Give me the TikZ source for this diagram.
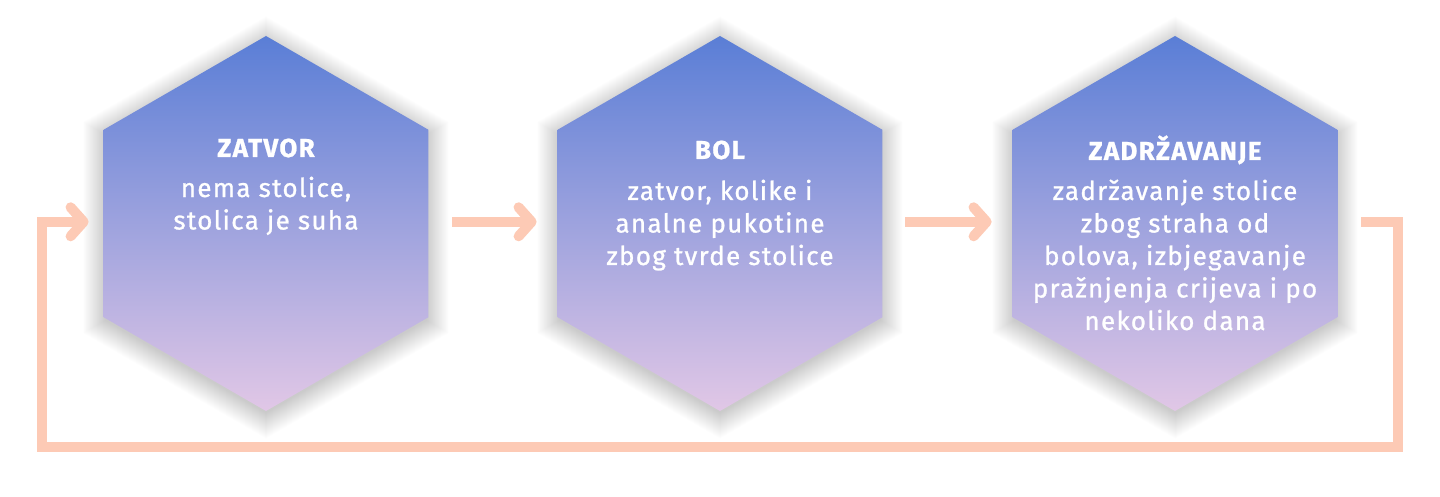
\documentclass[tikz,border=0pt]{standalone}
\usepackage{fontspec}
\setmainfont{Fira Sans}[LetterSpace=5, UprightFeatures={FakeBold=1}, BoldFeatures={FakeBold=0.8}]
\usetikzlibrary{shapes.geometric}
\definecolor{hexTop}{HTML}{5A7ED6}
\definecolor{hexBot}{HTML}{E1C7E6}
\definecolor{loopc}{HTML}{FDCAB5}
\tikzset{
  hexbox/.style={regular polygon, regular polygon sides=6, shape border rotate=30, minimum size=375pt,
    inner sep=0pt, outer sep=0pt, top color=hexTop, bottom color=hexBot, draw=none},
  titletext/.style={text=white, anchor=base, inner sep=0pt, font=\fontsize{26}{30}\selectfont\bfseries},
  bodytext/.style={text=white, anchor=base, inner sep=0pt, font=\fontsize{26}{32.5}\selectfont},
  shaft/.style={draw=loopc, line width=10pt, line cap=butt, line join=miter},
  chevron/.style={draw=loopc, line width=10pt, line cap=round, line join=round},
  shadowlayer/.style={fill=black, fill opacity=0.0065}
}
\newcommand{\bodylines}[1]{\begin{tabular}[t]{@{}c@{}}#1\end{tabular}}
\newcommand{\hexshadow}[1]{%
  \foreach \r in {186,187,...,211} {
    \fill[shadowlayer] ([yshift=-4pt]#1) ++(90:\r) -- ++(210:\r) -- ++(270:\r) -- ++(330:\r) -- ++(30:\r) -- ++(90:\r) -- cycle;
  }}
\begin{document}
\begin{tikzpicture}[x=1pt,y=-1pt]
\useasboundingbox (0,0) rectangle (1440,497);
\fill[white] (0,0) rectangle (1440,497);

\coordinate (c1) at (266,223.5);
\coordinate (c2) at (720,223.5);
\coordinate (c3) at (1175,223.5);
\hexshadow{c1}
\hexshadow{c2}
\hexshadow{c3}

\node[hexbox] (h1) at (c1) {};
\node[hexbox] (h2) at (c2) {};
\node[hexbox] (h3) at (c3) {};

\node[titletext] (t1) at (266,157) {ZATVOR};
\node[bodytext] (b1) at (266,197) {\bodylines{nema stolice,\\stolica je suha}};

\node[titletext] (t2) at (720,159) {BOL};
\node[bodytext] (b2) at (720,200) {\bodylines{zatvor, kolike i\\analne pukotine\\zbog tvrde stolice}};

\node[titletext] (t3) at (1175,160) {ZADRŽAVANJE};
\node[bodytext] (b3) at (1175,200) {\bodylines{zadržavanje stolice\\zbog straha od\\bolova, izbjegavanje\\pražnjenja crijeva i po\\nekoliko dana}};

% arrow h1 -> h2
\coordinate (a1s) at ([xshift=24pt,yshift=1.7pt]h1.east);
\coordinate (a1e) at ([xshift=-26pt,yshift=1.7pt]h2.west);
\draw[shaft] (a1s) -- (a1e);
\draw[chevron] ([xshift=-13pt,yshift=14.5pt]a1e) -- (a1e) -- ([xshift=-13pt,yshift=-14.5pt]a1e);

% arrow h2 -> h3
\coordinate (a2s) at ([xshift=23pt,yshift=1.7pt]h2.east);
\coordinate (a2e) at ([xshift=-26pt,yshift=1.7pt]h3.west);
\draw[shaft] (a2s) -- (a2e);
\draw[chevron] ([xshift=-13pt,yshift=14.5pt]a2e) -- (a2e) -- ([xshift=-13pt,yshift=-14.5pt]a2e);

% loop h3 -> h1
\coordinate (l0) at ([xshift=24pt,yshift=1.7pt]h3.east);
\coordinate (l1) at (1398,221.8);
\coordinate (l2) at (1398,447);
\coordinate (l3) at (42,447);
\coordinate (l4) at (42,221.8);
\coordinate (l5) at ([xshift=-20pt,yshift=1.7pt]h1.west);
\draw[shaft] (l0) -- (l1) -- (l2) -- (l3) -- (l4) -- (l5);
\draw[chevron] ([xshift=-13pt,yshift=14.5pt]l5) -- (l5) -- ([xshift=-13pt,yshift=-14.5pt]l5);
\end{tikzpicture}
\end{document}
